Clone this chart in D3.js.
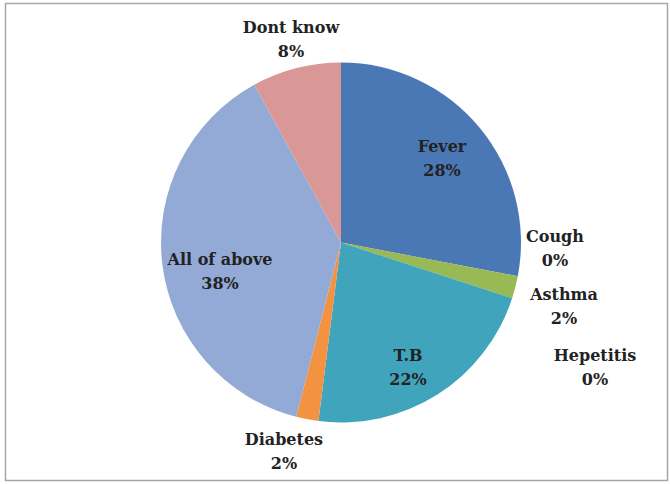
<!DOCTYPE html>
<html>
<head>
<meta charset="utf-8">
<script src="https://cdn.jsdelivr.net/npm/d3@7"></script>
<style>
  html, body { margin: 0; padding: 0; background: #fff; }
  svg { display: block; }
  .lbl { font-family: "DejaVu Serif", serif; font-weight: bold; font-size: 16px; fill: #222; }
</style>
</head>
<body>
<svg id="chart" width="670" height="484"></svg>
<script>
// Illness categories and their shares (percent), clockwise from 12 o'clock
const categories = ["Fever", "Cough", "Asthma", "Hepetitis", "T.B", "Diabetes", "All of above", "Dont know"];
const values = [28, 0, 2, 0, 22, 2, 38, 8];
const colors = ["#4A78B5", "#C0504D", "#98B954", "#8064A2", "#40A5BC", "#F39240", "#93A9D6", "#D99795"];

// Label placement: horizontal centre and baseline of the first line, in page pixels
const labelX = [442, 555, 564, 595, 408, 284, 220, 291];
const labelY = [152, 242, 300, 361, 361, 445, 265, 33];
const lineGap = 24;

const width = 670, height = 484;
const cx = 341, cy = 242.5, radius = 180;

const svg = d3.select("#chart");

// chart frame
svg.append("rect")
  .attr("x", 5.5).attr("y", 3.5)
  .attr("width", 662).attr("height", 477)
  .attr("fill", "#fff")
  .attr("stroke", "#A6A6A6")
  .attr("stroke-width", 1.5);

const data = categories.map((c, i) => ({ name: c, value: values[i], color: colors[i], lx: labelX[i], ly: labelY[i] }));

const pie = d3.pie().value(d => d.value).sort(null);
const arc = d3.arc().innerRadius(0).outerRadius(radius);

const g = svg.append("g").attr("transform", `translate(${cx},${cy})`);

g.selectAll("path")
  .data(pie(data).filter(d => d.data.value > 0))
  .join("path")
  .attr("d", arc)
  .attr("fill", d => d.data.color);

// two-line labels: category name and percentage
const labels = svg.append("g").selectAll("text")
  .data(data)
  .join("text")
  .attr("class", "lbl")
  .attr("text-anchor", "middle");

labels.append("tspan")
  .attr("x", d => d.lx)
  .attr("y", d => d.ly)
  .text(d => d.name);

labels.append("tspan")
  .attr("x", d => d.lx)
  .attr("y", d => d.ly + lineGap)
  .text(d => d3.format(".0f")(d.value) + "%");
</script>
</body>
</html>
